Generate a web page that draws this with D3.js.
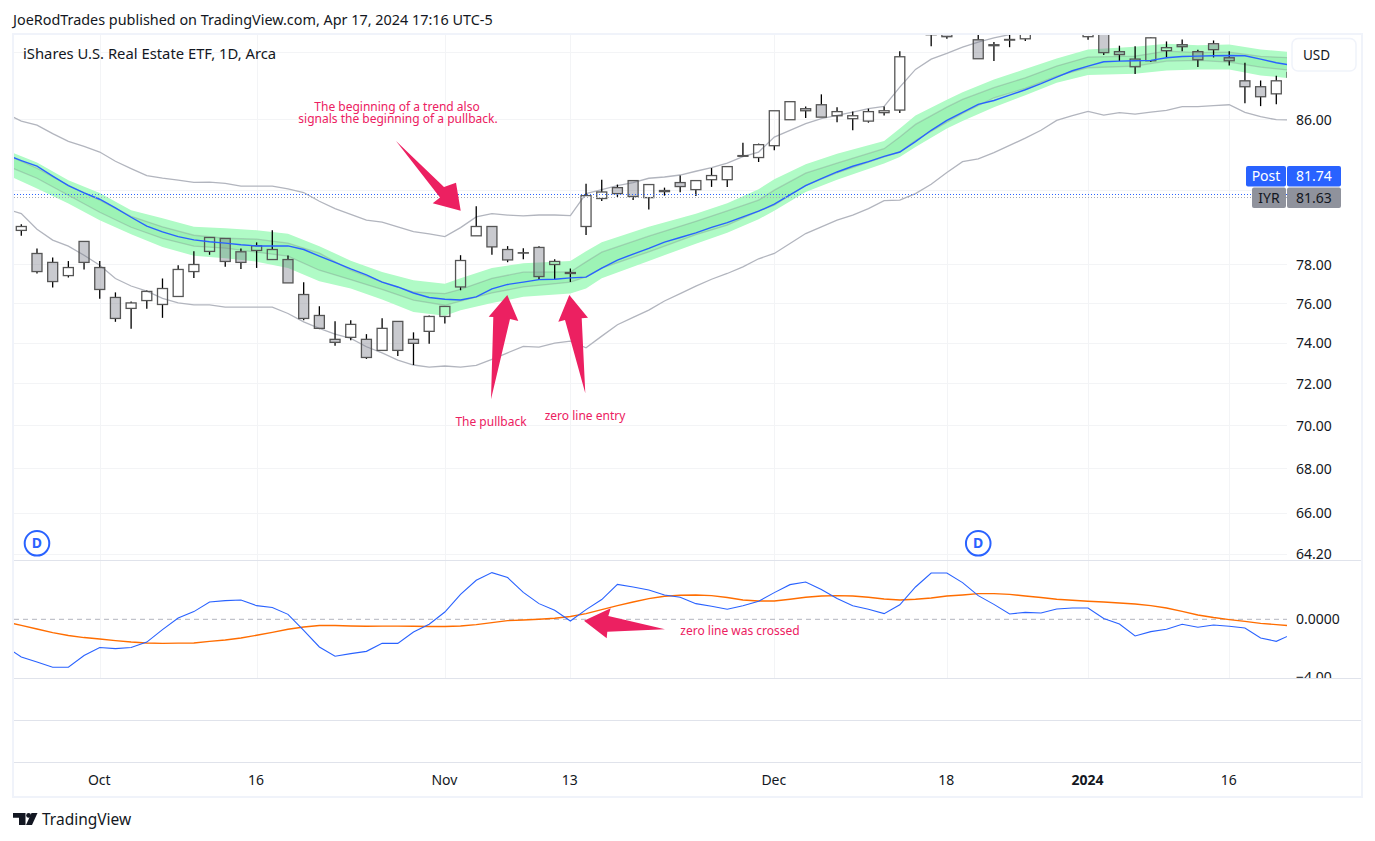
<!DOCTYPE html>
<html>
  <head>
    <meta charset="utf-8">
    <title>IYR daily</title>
    <script src="https://d3js.org/d3.v7.min.js"></script>
    <style>
      html, body { margin: 0; padding: 0; background: #fff; }
      svg { display: block; }
      text { font-family: "Noto Sans", "Open Sans", sans-serif; }
    </style>
  </head>
  <body>
    <div id="chart"></div>
    <script>
      // Candles, one per daily bar starting at bar 0
      var opens = [79.81,78.58,78.11,77.42,79.22,77.84,76.29,75.73,76.13,75.93,
        76.34,77.63,78.69,79.38,78.67,78.74,78.26,78.26,76.44,75.37,
        74.17,74.27,74.17,73.62,75.07,74.17,74.57,75.32,76.83,79.52,
        80.02,78.79,78.62,78.90,78.00,77.58,80.02,81.54,82.14,82.53,
        81.59,81.98,82.42,82.03,82.58,82.58,83.89,83.82,84.49,85.98,
        86.62,86.85,86.21,86.04,85.90,86.39,86.54,91.20,91.04,91.67,
        91.30,90.73,90.43,90.71,90.79,91.30,91.40,91.30,90.92,91.55,
        90.01,89.10,89.46,90.07,90.43,90.01,90.49,89.64,88.26,87.91,
        87.49,88.48];
      var highs = [80.14,78.85,78.37,78.18,79.22,78.18,76.55,76.08,76.65,77.27,
        77.96,78.70,79.43,79.38,78.85,79.17,79.82,78.48,77.08,75.84,
        75.08,75.13,74.43,75.23,75.07,74.52,75.37,75.83,78.49,81.12,
        80.02,78.97,78.86,78.97,78.28,77.79,82.36,82.58,82.31,82.55,
        82.31,82.14,82.82,82.53,83.23,83.34,84.66,84.61,86.50,87.03,
        86.75,87.46,86.70,86.46,86.62,86.75,90.03,92.00,92.24,92.00,
        92.10,91.18,90.59,91.05,91.70,92.00,92.10,92.00,91.90,92.00,
        90.37,90.33,90.89,90.63,90.75,90.13,90.69,90.03,89.34,88.28,
        88.56,89.00];
      var lows = [79.52,77.53,76.80,77.32,77.74,76.22,75.05,74.70,75.71,75.25,
        76.34,77.30,78.51,77.88,77.77,77.82,78.26,77.04,75.13,74.68,
        73.85,74.13,73.20,73.60,73.34,72.90,73.95,74.97,76.66,79.52,
        78.51,78.12,78.28,77.21,77.23,77.09,79.57,81.41,81.63,81.46,
        80.94,81.70,81.89,81.68,82.18,82.18,83.85,83.57,84.23,85.98,
        86.08,86.13,85.84,85.37,85.81,86.23,86.37,91.10,90.34,90.79,
        91.10,89.58,89.44,90.28,90.65,91.15,91.15,91.10,90.73,89.80,
        89.44,88.66,89.38,89.62,90.03,89.08,89.66,89.18,86.94,86.77,
        86.88,88.34];
      var closes = [80.02,77.63,77.11,77.84,78.11,76.70,75.22,76.01,76.60,76.75,
        77.74,78.00,79.43,78.16,78.11,78.99,78.79,77.04,75.22,74.72,
        74.02,74.92,73.27,74.72,73.62,73.97,75.32,75.83,78.21,80.02,
        78.93,78.24,78.60,77.37,78.16,77.53,81.70,81.90,81.81,81.65,
        82.31,81.92,82.20,82.53,82.81,83.31,83.93,84.55,86.50,87.03,
        86.50,86.13,86.45,86.21,86.45,86.50,89.70,91.80,91.80,90.92,
        91.90,89.58,90.37,90.75,91.43,91.80,91.85,91.70,91.43,89.95,
        89.83,89.56,90.85,90.25,90.31,89.52,90.13,89.46,87.91,87.32,
        88.26,88.76];

      // Overlay lines, one value per bar starting at bar -1
      var blueLine = [83.98,83.65,83.34,82.78,82.25,81.85,81.50,81.03,80.52,80.04,79.73,
        79.48,79.30,79.20,79.13,79.04,78.98,78.98,78.98,78.79,78.44,
        78.11,77.77,77.46,77.08,76.83,76.52,76.29,76.20,76.16,76.32,
        76.73,76.96,77.08,77.21,77.23,77.30,77.34,77.81,78.23,78.55,
        78.85,79.18,79.43,79.68,79.97,80.23,80.54,80.85,81.23,81.74,
        82.25,82.64,83.01,83.33,83.59,83.89,84.13,84.72,85.37,85.94,
        86.41,86.87,87.10,87.41,87.73,88.09,88.48,88.86,89.14,89.40,
        89.44,89.46,89.48,89.64,89.72,89.74,89.76,89.78,89.76,89.56,
        89.34,89.18];
      var upperLine = [86.35,85.90,85.67,85.18,84.74,84.45,84.13,83.61,83.20,82.81,82.67,
        82.56,82.43,82.45,82.38,82.22,82.22,82.22,82.07,81.87,81.39,
        80.99,80.68,80.36,80.25,80.00,79.75,79.62,79.48,79.96,80.54,
        80.72,80.64,80.59,80.64,80.64,80.61,81.81,82.03,82.25,82.42,
        82.66,82.73,82.84,83.05,83.25,83.51,83.87,84.13,84.98,85.37,
        85.75,86.04,86.23,86.42,86.62,86.75,87.89,88.94,89.56,89.90,
        90.28,90.59,90.85,91.05,91.30,91.50,91.70,91.90,92.00,92.10,
        92.20,92.20,92.30,92.40,92.40,92.40,92.50,92.50,92.40,92.30,
        92.20,92.10];
      var lowerLine = [80.97,80.72,79.87,79.29,78.97,78.49,77.96,77.27,76.88,76.61,76.24,
        76.01,75.91,75.91,75.79,75.79,75.79,75.79,75.47,75.05,74.72,
        74.43,74.22,73.80,73.50,73.14,72.90,72.80,72.85,72.80,72.88,
        73.18,73.50,73.82,73.78,73.98,74.08,73.75,74.33,74.90,75.27,
        75.64,76.11,76.49,76.87,77.23,77.53,77.88,78.30,78.58,79.11,
        79.64,80.00,80.36,80.64,80.99,81.42,81.45,81.81,82.33,82.98,
        83.59,83.74,84.10,84.51,84.92,85.37,85.94,86.21,86.46,86.25,
        86.39,86.31,86.42,86.52,86.74,86.74,86.80,86.85,86.41,86.16,
        85.98,85.97];

      // Green band, read at these bars only
      var bandBars = [-1,1,3,5,7,9,11,13,15,17,19,21,23,25,27,28,30,32,35,36,37,40,43,45,47,48,50,52,55,56,57,59,60,62,64,66,68,71,73,75,77,79,81];
      var outerTop = [84.26,83.54,82.55,81.85,80.90,80.46,80.01,79.93,79.82,79.63,78.97,78.20,77.61,77.18,76.99,77.28,77.81,78.07,
        78.18,78.70,79.18,80.00,80.71,81.28,82.05,82.60,83.44,84.03,84.76,85.47,86.23,87.14,87.58,88.34,88.96,89.60,90.14,90.31,90.49,90.39,90.45,90.14,89.98];
      var innerTop = [84.00,83.22,82.27,81.45,80.57,80.00,79.55,79.39,79.34,79.13,78.60,77.70,77.09,76.57,76.49,76.71,77.28,77.60,
        77.61,78.14,78.65,79.50,80.30,80.86,81.45,82.00,82.94,83.50,84.32,84.98,85.71,86.71,87.16,87.85,88.44,89.14,89.68,89.74,90.04,89.95,89.98,89.72,89.64];
      var innerBottom = [83.38,82.66,81.72,80.79,79.98,79.38,78.97,78.86,78.65,78.44,77.70,77.21,76.70,76.15,75.89,76.10,76.52,76.83,
        77.08,77.35,77.81,78.67,79.58,80.09,80.85,81.17,82.27,82.96,83.85,84.13,84.79,85.84,86.35,87.26,87.81,88.54,89.04,89.14,89.44,89.48,89.38,89.08,88.88];
      var outerBottom = [82.88,82.09,81.27,80.36,79.61,78.93,78.46,78.33,78.15,77.81,77.13,76.75,76.18,75.55,75.36,75.64,76.00,76.32,
        76.49,76.75,77.28,78.19,79.10,79.68,80.41,80.87,81.90,82.57,83.48,83.85,84.41,85.47,85.91,86.71,87.41,88.15,88.60,88.68,88.88,88.94,88.94,88.58,88.40];

      // Lower pane, one value per bar starting at bar -1
      var macdLine = [-1.88,-2.60,-2.94,-3.31,-3.31,-2.50,-1.95,-2.02,-1.95,-1.57,-0.71,
        0.09,0.53,1.19,1.29,1.33,0.94,0.81,0.34,-0.76,-1.91,
        -2.55,-2.37,-2.21,-1.66,-1.66,-0.88,-0.34,0.50,1.72,2.69,
        3.22,2.88,1.86,1.08,0.62,-0.12,0.67,1.36,2.41,2.23,
        2.02,1.68,1.52,1.08,0.90,0.69,0.94,1.24,1.84,2.39,
        2.57,2.05,1.43,0.94,0.69,0.39,1.00,2.23,3.19,3.19,
        2.53,1.63,1.03,0.37,0.48,0.43,0.71,0.78,0.78,0.05,
        -0.32,-1.15,-0.85,-0.69,-0.34,-0.55,-0.39,-0.48,-0.60,-1.29,
        -1.52,-1.03];
      var signalLine = [-0.17,-0.42,-0.67,-0.92,-1.12,-1.26,-1.36,-1.47,-1.57,-1.63,-1.66,
        -1.64,-1.63,-1.52,-1.43,-1.29,-1.10,-0.90,-0.69,-0.53,-0.43,
        -0.43,-0.46,-0.48,-0.47,-0.47,-0.48,-0.50,-0.50,-0.46,-0.37,
        -0.23,-0.09,-0.05,0.00,0.07,0.19,0.39,0.67,0.94,1.19,
        1.43,1.59,1.66,1.68,1.63,1.50,1.33,1.26,1.26,1.38,
        1.52,1.61,1.63,1.61,1.52,1.40,1.33,1.38,1.47,1.61,
        1.68,1.77,1.77,1.72,1.61,1.50,1.38,1.31,1.24,1.19,
        1.12,1.06,0.94,0.78,0.55,0.30,0.12,-0.02,-0.14,-0.28,
        -0.37,-0.45];

      // Axis ticks. 90 and 82 only have gridlines, their labels sit behind the USD button and the tags
      var priceGrid = [90, 86, 82, 78, 76, 74, 72, 70, 68, 66, 64.2];
      var priceTicks = [86, 78, 76, 74, 72, 70, 68, 66, 64.2];
      var macdTicks = [0, -4];
      var timeBars = [5, 15, 27, 35, 48, 59, 68, 77];
      var timeLabels = ["Oct", "16", "Nov", "13", "Dec", "18", "2024", "16"];
      var dividendBars = [1, 61];
      var postLevel = 81.68, lastLevel = 81.63;

      var svg = d3.select("#chart").append("svg")
        .attr("width", 1375).attr("height", 841);

      var x = d3.scaleLinear().domain([0, 80]).range([21.3, 1276.3]);
      var y = d3.scaleLog().domain([64.2, 90]).range([553.9, 51.8]);
      var yMacd = d3.scaleLinear().domain([-4, 4]).range([677.3, 561.3]);

      var plotLeft = 14, plotRight = 1287, plotTop = 35, plotBottom = 678;
      var defs = svg.append("defs");
      defs.append("clipPath").attr("id", "priceClip").append("rect")
        .attr("x", plotLeft).attr("y", plotTop).attr("width", plotRight - plotLeft).attr("height", 560 - plotTop);
      defs.append("clipPath").attr("id", "macdClip").append("rect")
        .attr("x", plotLeft).attr("y", 561).attr("width", plotRight - plotLeft).attr("height", 117);
      defs.append("clipPath").attr("id", "axisClip").append("rect")
        .attr("x", plotRight).attr("y", plotTop).attr("width", 75).attr("height", plotBottom - plotTop);

      var textColor = "#131722", gridColor = "#f3f4f6", frameColor = "#f0f3fa", lineColor = "#e0e3eb";

      // Title above the frame
      svg.append("text").attr("x", 13).attr("y", 25).attr("font-size", 14.4).attr("fill", textColor)
        .text("JoeRodTrades published on TradingView.com, Apr 17, 2024 17:16 UTC-5");

      // Grid
      var grid = svg.append("g").attr("fill", "none").attr("stroke", gridColor);
      grid.selectAll("line.h").data(priceGrid).enter().append("line").attr("class", "h")
        .attr("x1", plotLeft).attr("x2", plotRight)
        .attr("y1", function(d) { return Math.round(y(d)) + 0.5; })
        .attr("y2", function(d) { return Math.round(y(d)) + 0.5; });
      grid.selectAll("line.v").data(timeBars).enter().append("line").attr("class", "v")
        .attr("y1", plotTop).attr("y2", plotBottom)
        .attr("x1", function(d) { return Math.round(x(d)) + 0.5; })
        .attr("x2", function(d) { return Math.round(x(d)) + 0.5; });

      // Price pane
      var price = svg.append("g").attr("clip-path", "url(#priceClip)");

      var bandOuter = d3.area()
        .x(function(d) { return x(d); })
        .y0(function(d, i) { return y(outerTop[i]); })
        .y1(function(d, i) { return y(outerBottom[i]); });
      var bandInner = d3.area()
        .x(function(d) { return x(d); })
        .y0(function(d, i) { return y(innerTop[i]); })
        .y1(function(d, i) { return y(innerBottom[i]); });
      price.append("path").attr("d", bandOuter(bandBars)).attr("fill", "#b0fbc6");
      price.append("path").attr("d", bandInner(bandBars)).attr("fill", "#9df3b5");

      [innerTop, innerBottom].forEach(function(series) {
        var edge = d3.line()
          .x(function(d) { return x(d); })
          .y(function(d, i) { return y(series[i]); });
        price.append("path").attr("d", edge(bandBars)).attr("fill", "none")
          .attr("stroke", "#787b86").attr("stroke-opacity", 0.3).attr("stroke-width", 1.3);
      });

      var allBars = d3.range(-1, 82);
      function priceLine(series) {
        return d3.line()
          .x(function(d) { return x(d); })
          .y(function(d, i) { return y(series[i]); })(allBars);
      }
      price.append("path").attr("d", priceLine(upperLine)).attr("fill", "none")
        .attr("stroke", "#b2b5be").attr("stroke-width", 1.3);
      price.append("path").attr("d", priceLine(lowerLine)).attr("fill", "none")
        .attr("stroke", "#b2b5be").attr("stroke-width", 1.3);

      // Candles
      var candles = price.selectAll("g.candle").data(d3.range(0, opens.length)).enter()
        .append("g").attr("class", "candle");
      candles.append("line").attr("stroke", "#000").attr("stroke-width", 1.3)
        .attr("x1", function(i) { return x(i); }).attr("x2", function(i) { return x(i); })
        .attr("y1", function(i) { return y(highs[i]); })
        .attr("y2", function(i) { return y(Math.max(opens[i], closes[i])); });
      candles.append("line").attr("stroke", "#000").attr("stroke-width", 1.3)
        .attr("x1", function(i) { return x(i); }).attr("x2", function(i) { return x(i); })
        .attr("y1", function(i) { return y(Math.min(opens[i], closes[i])); })
        .attr("y2", function(i) { return y(lows[i]); });
      candles.append("rect")
        .attr("x", function(i) { return x(i) - 5; })
        .attr("width", 10)
        .attr("y", function(i) { return y(Math.max(opens[i], closes[i])); })
        .attr("height", function(i) { return Math.abs(y(opens[i]) - y(closes[i])); })
        .attr("fill", function(i) { return closes[i] >= opens[i] ? "none" : "#787b86"; })
        .attr("fill-opacity", 0.4)
        .attr("stroke", "#555").attr("stroke-width", 1.3);

      price.append("path").attr("d", priceLine(blueLine)).attr("fill", "none")
        .attr("stroke", "#2962ff").attr("stroke-width", 1.4);

      // Last price levels
      price.append("line").attr("x1", plotLeft).attr("x2", plotRight)
        .attr("y1", Math.round(y(lastLevel)) + 0.5).attr("y2", Math.round(y(lastLevel)) + 0.5)
        .attr("stroke", "#a6a9b2").attr("stroke-dasharray", "1 2");
      price.append("line").attr("x1", plotLeft).attr("x2", plotRight)
        .attr("y1", Math.floor(y(postLevel)) - 0.5).attr("y2", Math.floor(y(postLevel)) - 0.5)
        .attr("stroke", "#2962ff").attr("stroke-dasharray", "1 2");

      // Lower pane
      var macd = svg.append("g").attr("clip-path", "url(#macdClip)");
      macd.append("line").attr("x1", plotLeft).attr("x2", plotRight)
        .attr("y1", yMacd(0)).attr("y2", yMacd(0))
        .attr("stroke", "#b2b5be").attr("stroke-dasharray", "5 4");
      function macdPath(series) {
        return d3.line()
          .x(function(d) { return x(d); })
          .y(function(d, i) { return yMacd(series[i]); })(allBars);
      }
      macd.append("path").attr("d", macdPath(signalLine)).attr("fill", "none")
        .attr("stroke", "#ff6d00").attr("stroke-width", 1.4);
      macd.append("path").attr("d", macdPath(macdLine)).attr("fill", "none")
        .attr("stroke", "#2962ff").attr("stroke-width", 1.1);

      // Pane separators and frame
      var frame = svg.append("g").attr("fill", "none");
      [560.5, 678.5, 720.5, 762.5].forEach(function(py) {
        frame.append("line").attr("x1", plotLeft).attr("x2", 1361).attr("y1", py).attr("y2", py)
          .attr("stroke", lineColor);
      });
      frame.append("rect").attr("x", 13).attr("y", 34).attr("width", 1349).attr("height", 763)
        .attr("stroke", frameColor).attr("stroke-width", 2);

      // Axes
      function styleAxis(g) {
        g.select(".domain").remove();
        g.selectAll("text").attr("font-size", 14).attr("fill", textColor);
      }
      var axes = svg.append("g").attr("clip-path", "url(#axisClip)");
      axes.append("g").attr("transform", "translate(" + plotRight + ",0.5)")
        .call(d3.axisRight(y).tickValues(priceTicks).tickSize(0).tickPadding(9)
          .tickFormat(d3.format(".2f")))
        .call(styleAxis);
      axes.append("g").attr("transform", "translate(" + plotRight + ",-0.5)")
        .call(d3.axisRight(yMacd).tickValues(macdTicks).tickSize(0).tickPadding(9)
          .tickFormat(function(d) { return d === 0 ? "0.0000" : "\u22124.00"; }))
        .call(styleAxis);

      var timeAxis = d3.axisBottom(x).tickValues(timeBars).tickSize(0).tickPadding(0).offset(0)
        .tickFormat(function(d, i) { return timeLabels[i]; });
      svg.append("g").attr("transform", "translate(-0.5,775)").call(timeAxis).call(styleAxis)
        .selectAll("text")
        .attr("font-weight", function(d, i) { return timeLabels[i] === "2024" ? 700 : 400; });

      // Series title
      svg.append("text").attr("x", 23).attr("y", 59).attr("font-size", 14.8).attr("fill", textColor)
        .text("iShares U.S. Real Estate ETF, 1D, Arca");

      // Dividend markers
      var marks = svg.selectAll("g.dividend").data(dividendBars).enter().append("g")
        .attr("class", "dividend")
        .attr("transform", function(d) { return "translate(" + x(d) + ",543.3)"; });
      marks.append("circle").attr("r", 12.3).attr("fill", "#fff")
        .attr("stroke", "#2962ff").attr("stroke-width", 2);
      marks.append("text").attr("text-anchor", "middle").attr("y", 5).attr("font-size", 14)
        .attr("font-weight", 700).attr("fill", "#2962ff").text("D");

      // Currency button
      svg.append("rect").attr("x", 1292).attr("y", 38.5).attr("width", 64).attr("height", 32.5)
        .attr("rx", 6).attr("fill", "#fff").attr("stroke", frameColor).attr("stroke-width", 1.5);
      svg.append("text").attr("x", 1303).attr("y", 60).attr("font-size", 13.5).attr("fill", textColor).text("USD");

      // Price tags on the axis
      function tag(x0, w, y0, h, fill, color, label) {
        svg.append("rect").attr("x", x0).attr("y", y0).attr("width", w).attr("height", h)
          .attr("rx", 2).attr("fill", fill);
        svg.append("text").attr("x", x0 + w / 2).attr("y", y0 + h / 2 + 5).attr("text-anchor", "middle")
          .attr("font-size", 14).attr("fill", color).text(label);
      }
      tag(1246, 40, 166, 20.5, "#2962ff", "#fff", "Post");
      tag(1287, 54, 166, 20.5, "#2962ff", "#fff", "81.74");
      tag(1252, 34, 187.5, 20.5, "#8f929c", textColor, "IYR");
      tag(1287, 54, 187.5, 20.5, "#8f929c", textColor, "81.63");

      // Drawn arrows and notes
      var pink = "#ec2061";
      var arrows = [
        [[396,141],[444,187],[456,182.7],[460.7,210.7],[432.7,203.3],[440,197.5]],
        [[491,399.3],[493.3,317],[488.7,316.7],[507.3,295],[518.3,321],[510,319]],
        [[585.3,393.3],[581.7,318.3],[588,317.7],[569.3,295],[558.3,321.7],[565,320]],
        [[665,629.3],[608.3,616],[610.7,608.3],[584,620.7],[606.7,638.3],[607.3,631.7]]
      ];
      svg.selectAll("polygon.arrow").data(arrows).enter().append("polygon").attr("class", "arrow")
        .attr("points", function(d) { return d.join(" "); })
        .attr("fill", pink);

      var notes = [
        ["The beginning of a trend also", 397, 111],
        ["signals the beginning of a pullback.", 398, 123],
        ["The pullback", 491, 426],
        ["zero line entry", 585, 420],
        ["zero line was crossed", 740, 635]
      ];
      svg.selectAll("text.note").data(notes).enter().append("text").attr("class", "note")
        .attr("x", function(d) { return d[1]; })
        .attr("y", function(d) { return d[2]; })
        .attr("text-anchor", "middle").attr("font-size", 12).attr("fill", pink)
        .text(function(d) { return d[0]; });

      // Logo and footer
      var logo = svg.append("g").attr("fill", "#131722");
      logo.append("path").attr("d", "M13 813H25.5V825H19V817.8H13Z");
      logo.append("circle").attr("cx", 28.6).attr("cy", 815.4).attr("r", 2.4);
      logo.append("path").attr("d", "M31.5 813H37.5L32 825H26Z");
      svg.append("text").attr("x", 42).attr("y", 825).attr("font-size", 15.5).attr("fill", textColor)
        .text("TradingView");
    </script>
  </body>
</html>
